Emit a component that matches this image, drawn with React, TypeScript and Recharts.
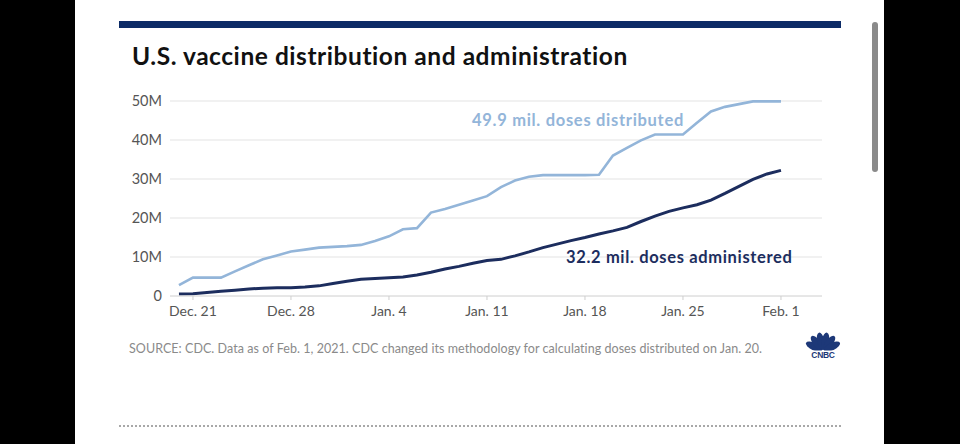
import React from "react";
import { LineChart, Line, XAxis, YAxis, CartesianGrid } from "recharts";

// one point per day, Dec. 20, 2020 -> Feb. 1, 2021 (millions of doses)
const days = [
  "Dec. 20", "Dec. 21", "Dec. 22", "Dec. 23", "Dec. 24", "Dec. 25", "Dec. 26", "Dec. 27",
  "Dec. 28", "Dec. 29", "Dec. 30", "Dec. 31", "Jan. 1", "Jan. 2", "Jan. 3", "Jan. 4",
  "Jan. 5", "Jan. 6", "Jan. 7", "Jan. 8", "Jan. 9", "Jan. 10", "Jan. 11", "Jan. 12",
  "Jan. 13", "Jan. 14", "Jan. 15", "Jan. 16", "Jan. 17", "Jan. 18", "Jan. 19", "Jan. 20",
  "Jan. 21", "Jan. 22", "Jan. 23", "Jan. 24", "Jan. 25", "Jan. 26", "Jan. 27", "Jan. 28",
  "Jan. 29", "Jan. 30", "Jan. 31", "Feb. 1",
];

const distributed = [
  2.8, 4.7, 4.7, 4.7, 6.3, 7.9, 9.4, 10.4, 11.4, 11.9, 12.4, 12.6, 12.8, 13.1, 14.1, 15.3,
  17.1, 17.4, 21.4, 22.3, 23.4, 24.5, 25.6, 27.9, 29.6, 30.6, 31.0, 31.0, 31.0, 31.0, 31.1, 36.0,
  38.0, 39.9, 41.4, 41.4, 41.4, 44.4, 47.3, 48.5, 49.2, 49.9, 49.9, 49.9,
];

const administered = [
  0.5, 0.6, 0.9, 1.2, 1.5, 1.8, 2.0, 2.1, 2.1, 2.3, 2.6, 3.2, 3.8, 4.3, 4.5, 4.7,
  4.9, 5.4, 6.1, 6.9, 7.6, 8.4, 9.1, 9.4, 10.3, 11.3, 12.4, 13.3, 14.2, 15.0, 15.9, 16.7,
  17.6, 19.1, 20.5, 21.7, 22.6, 23.4, 24.6, 26.3, 28.1, 29.9, 31.3, 32.2,
];

const xTickLabels = ["Dec. 21", "Dec. 28", "Jan. 4", "Jan. 11", "Jan. 18", "Jan. 25", "Feb. 1"];
const yTicks = [0, 10, 20, 30, 40, 50];

const data = days.map((d, i) => ({ i, day: d, distributed: distributed[i], administered: administered[i] }));
const xTicks = xTickLabels.map((l) => days.indexOf(l));

const LIGHT = "#93b5d9";
const DARK = "#1c2d5e";
const LOGO = "#1d3878";

function CnbcLogo() {
  const feathers = [-64, -38, -12.5, 12.5, 38, 64];
  return (
    <svg width={36} height={28} viewBox="0 0 36 28">
      {feathers.map((a, k) => (
        <ellipse key={k} cx={18} cy={10} rx={3.7} ry={8.8} fill={LOGO} transform={`rotate(${a} 18 20)`} />
      ))}
      <rect x={0} y={19.5} width={36} height={9} fill="#fff" />
      <text
        x={18}
        y={27}
        textAnchor="middle"
        fontFamily="Liberation Sans, Arial"
        fontWeight={700}
        fontSize={8.5}
        letterSpacing={-0.3}
        fill={LOGO}
      >
        CNBC
      </text>
    </svg>
  );
}

export default function App() {
  return (
    <div style={{ position: "fixed", left: 0, top: 0, width: 960, height: 444, background: "#000", overflow: "hidden" }}>
      <div style={{ position: "absolute", left: 75, top: 0, width: 809, height: 444, background: "#fff" }} />
      {/* header bar */}
      <div style={{ position: "absolute", left: 119, top: 21, width: 722, height: 7, background: "#0c2b66" }} />
      {/* scrollbar */}
      <div style={{ position: "absolute", left: 872, top: 22, width: 6, height: 150, borderRadius: 3, background: "#8a8a8a" }} />
      <div
        style={{
          position: "absolute",
          left: 132,
          top: 41,
          fontFamily: "Lato, sans-serif",
          fontWeight: 700,
          fontSize: 24.5,
          letterSpacing: 0.55,
          color: "#111",
          whiteSpace: "nowrap",
        }}
      >
        U.S. vaccine distribution and administration
      </div>

      <div style={{ position: "absolute", left: 100, top: 91 }}>
        <LineChart width={730} height={240} data={data} margin={{ top: 10, right: 8, bottom: 0, left: 0 }}>
          <CartesianGrid vertical={false} stroke="#e4e4e4" strokeWidth={1.2} />
          <XAxis
            dataKey="i"
            type="number"
            domain={[-0.64, 45.93]}
            ticks={xTicks}
            tickFormatter={(v: number) => days[v]}
            axisLine={{ stroke: "#dcdcdc" }}
            tickLine={{ stroke: "#cfcfcf" }}
            tickSize={4}
            tickMargin={6}
            height={35}
            tick={{ fill: "#555", fontSize: 14, fontFamily: "Lato, sans-serif" }}
            interval={0}
          />
          <YAxis
            domain={[0, 50]}
            ticks={yTicks}
            tickFormatter={(v: number) => (v === 0 ? "0" : `${v}M`)}
            axisLine={false}
            tickLine={false}
            tickMargin={2}
            width={70}
            tick={{ fill: "#555", fontSize: 14.5, fontFamily: "Lato, sans-serif" }}
          />
          <Line type="linear" dataKey="distributed" stroke={LIGHT} strokeWidth={2.6} dot={false} isAnimationActive={false} />
          <Line type="linear" dataKey="administered" stroke={DARK} strokeWidth={3} dot={false} isAnimationActive={false} />
        </LineChart>
      </div>

      <div
        style={{
          position: "absolute",
          left: 472,
          top: 110,
          fontFamily: "Lato, sans-serif",
          fontWeight: 700,
          fontSize: 16.5,
          letterSpacing: 0.7,
          color: LIGHT,
          whiteSpace: "nowrap",
        }}
      >
        49.9 mil. doses distributed
      </div>
      <div
        style={{
          position: "absolute",
          left: 566,
          top: 247,
          fontFamily: "Lato, sans-serif",
          fontWeight: 700,
          fontSize: 16.5,
          letterSpacing: 0.65,
          color: DARK,
          whiteSpace: "nowrap",
        }}
      >
        32.2 mil. doses administered
      </div>

      <div
        style={{
          position: "absolute",
          left: 129,
          top: 341,
          fontFamily: "Lato, sans-serif",
          fontSize: 12.5,
          letterSpacing: 0.05,
          color: "#8a8a8a",
          whiteSpace: "nowrap",
        }}
      >
        SOURCE: CDC. Data as of Feb. 1, 2021. CDC changed its methodology for calculating doses distributed on Jan. 20.
      </div>
      <div style={{ position: "absolute", left: 805, top: 331 }}>
        <CnbcLogo />
      </div>
      <div
        style={{
          position: "absolute",
          left: 119,
          top: 425,
          width: 722,
          height: 0,
          borderTop: "2px dotted #a8a8a8",
        }}
      />
    </div>
  );
}
